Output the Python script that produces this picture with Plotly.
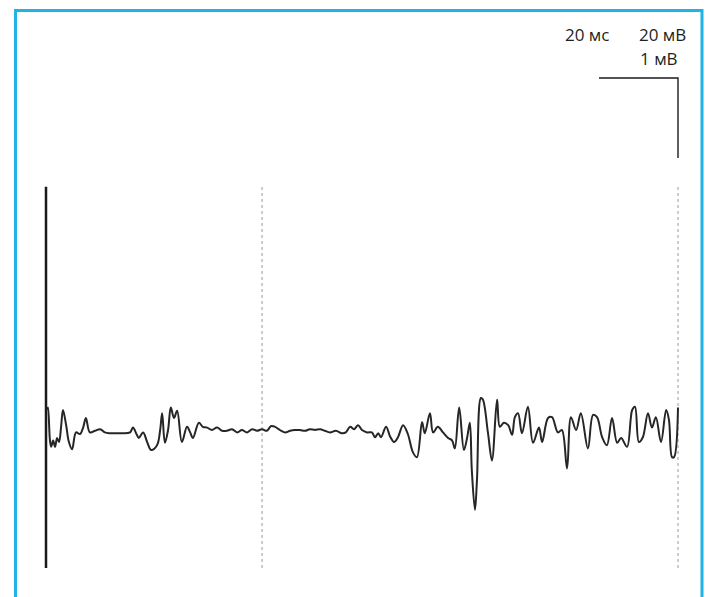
import plotly.graph_objects as go

# Time (ms) and potential (mV) of the recorded trace
time_ms = [0.3, 0.5, 1.0, 1.3, 1.8, 2.3, 2.8, 3.3, 3.8, 4.3, 5.1, 5.8, 6.6, 7.6, 8.6, 9.4, 10.1, 11.1,
           12.4, 13.7, 14.9, 16.2, 18.7, 21.3, 22.0, 23.0, 23.5, 24.6, 25.6, 26.6, 28.1, 28.9, 29.4,
           30.1, 30.9, 31.6, 32.4, 33.2, 34.4, 35.7, 36.5, 37.2, 38.7, 39.7, 40.8, 42.0, 43.3, 44.6,
           45.8, 47.1, 48.4, 49.6, 50.9, 52.2, 53.4, 54.7, 55.9, 57.0, 58.0, 59.2, 60.5, 61.8, 63.0,
           64.3, 65.6, 66.8, 68.1, 69.4, 70.6, 71.9, 73.4, 74.9, 75.9, 77.0, 78.0, 79.0, 80.0, 81.3,
           82.5, 83.3, 84.1, 84.8, 86.1, 87.1, 88.1, 89.1, 90.4, 91.6, 92.9, 93.9, 95.2, 95.9, 97.2,
           98.0, 99.2, 100.5, 101.8, 102.8, 103.5, 104.6, 105.8, 106.6, 107.3, 107.8, 108.6, 109.1,
           110.1, 110.6, 111.9, 112.9, 114.2, 114.9, 115.9, 117.0, 118.0, 118.7, 119.5, 120.5, 122.0,
           123.3, 124.8, 125.6, 127.1, 128.1, 129.6, 130.6, 131.9, 132.9, 134.2, 135.4, 137.2, 138.5,
           139.5, 140.8, 142.0, 143.3, 144.6, 145.6, 147.1, 148.4, 149.1, 150.1, 151.1, 152.4, 153.4,
           154.4, 155.7, 157.0, 157.7, 158.5, 159.0, 160.0]
potential_mv = [0.25, 0.28, -0.13, -0.21, -0.13, -0.21, -0.10, -0.15, 0.03, 0.25, 0.06, -0.15, -0.24,
                -0.03, -0.05, 0.03, 0.15, -0.03, -0.01, 0.01, -0.03, -0.04, -0.04, -0.03, 0.03, -0.06,
                -0.10, -0.03, -0.15, -0.25, -0.19, 0.00, 0.21, -0.16, 0.00, 0.28, 0.15, 0.24, -0.15,
                0.04, -0.03, -0.10, 0.09, 0.04, 0.03, 0.00, 0.03, -0.01, -0.01, 0.01, -0.03, 0.00,
                -0.03, 0.01, -0.01, 0.01, -0.01, 0.05, 0.04, 0.00, -0.03, -0.01, 0.00, 0.00, -0.01,
                0.01, 0.00, 0.01, -0.01, -0.03, -0.01, -0.04, -0.03, 0.04, 0.01, 0.06, 0.00, -0.03,
                -0.03, -0.09, -0.04, -0.09, 0.04, -0.08, -0.15, -0.09, 0.06, -0.05, -0.28, -0.34,
                0.10, -0.04, 0.21, -0.03, 0.04, -0.03, -0.10, -0.13, -0.23, 0.28, -0.25, -0.10, 0.09,
                -0.50, -1.00, -0.63, 0.40, 0.38, -0.04, -0.38, 0.38, 0.04, 0.09, 0.06, -0.06, 0.16,
                0.21, -0.04, 0.29, -0.16, 0.03, -0.15, 0.15, 0.16, -0.03, 0.00, -0.48, 0.16, 0.00,
                0.21, -0.23, 0.19, 0.16, -0.09, -0.19, 0.15, -0.16, -0.10, -0.21, 0.25, 0.29, -0.15,
                -0.09, 0.21, 0.03, 0.16, -0.15, 0.25, 0.13, -0.34, -0.34, 0.28]

# Vertical markers (ms): start (solid) and two dotted markers
start_ms = 0.0
dotted_ms = [54.7, 160.0]
marker_span_mv = [-1.725, 3.04]

# Scale bar: 20 ms horizontally, 1 mV vertically
scale_t = [140.0, 160.0]
scale_v = [4.4, 3.4]
label_time = "20 мс"
label_gain = "20 мВ"
label_volt = "1 мВ"

fig = go.Figure()

for t in dotted_ms:
    fig.add_trace(go.Scatter(x=[t, t], y=marker_span_mv, mode="lines",
                             line=dict(color="#9a9a9a", width=1, dash="dot"),
                             hoverinfo="skip", showlegend=False))

fig.add_trace(go.Scatter(x=[start_ms, start_ms], y=marker_span_mv, mode="lines",
                         line=dict(color="#1a1a1a", width=2.5),
                         hoverinfo="skip", showlegend=False))

fig.add_trace(go.Scatter(x=time_ms, y=potential_mv, mode="lines",
                         line=dict(color="#262626", width=2, shape="spline", smoothing=1.0),
                         showlegend=False))

# scale bar
fig.add_trace(go.Scatter(x=[scale_t[0], scale_t[1], scale_t[1]],
                         y=[scale_v[0], scale_v[0], scale_v[1]], mode="lines",
                         line=dict(color="#1a1a1a", width=1.4),
                         hoverinfo="skip", showlegend=False))

font = dict(family="'Open Sans', sans-serif", size=17, color="#231f20")
fig.add_annotation(x=137.0, y=4.94, text=label_time, showarrow=False,
                   xanchor="center", yanchor="middle", font=font)
fig.add_annotation(x=156.2, y=4.94, text=label_gain, showarrow=False,
                   xanchor="center", yanchor="middle", font=font)
fig.add_annotation(x=155.2, y=4.65, text=label_volt, showarrow=False,
                   xanchor="center", yanchor="middle", font=font)

W, H = 707, 597
xl, xr, yt = 15.5 / W, 702 / W, 1 - 10.5 / H
fig.add_shape(type="path", xref="paper", yref="paper",
              path=f"M {xl} -0.05 L {xl} {yt} L {xr} {yt} L {xr} -0.05",
              line=dict(color="#1eb4ea", width=3))

fig.update_xaxes(range=[-46 / 3.95, (707 - 46) / 3.95], visible=False, fixedrange=True)
fig.update_yaxes(range=[(430 - 597) / 80, 430 / 80], visible=False, fixedrange=True)
fig.update_layout(width=W, height=H, autosize=False,
                  margin=dict(l=0, r=0, t=0, b=0),
                  paper_bgcolor="white", plot_bgcolor="white")

fig.write_html("out.html", config={"displayModeBar": False},
               post_script="document.body.style.margin='0';"
                           "document.documentElement.style.overflow='hidden';"
                           "document.body.style.overflow='hidden';")
